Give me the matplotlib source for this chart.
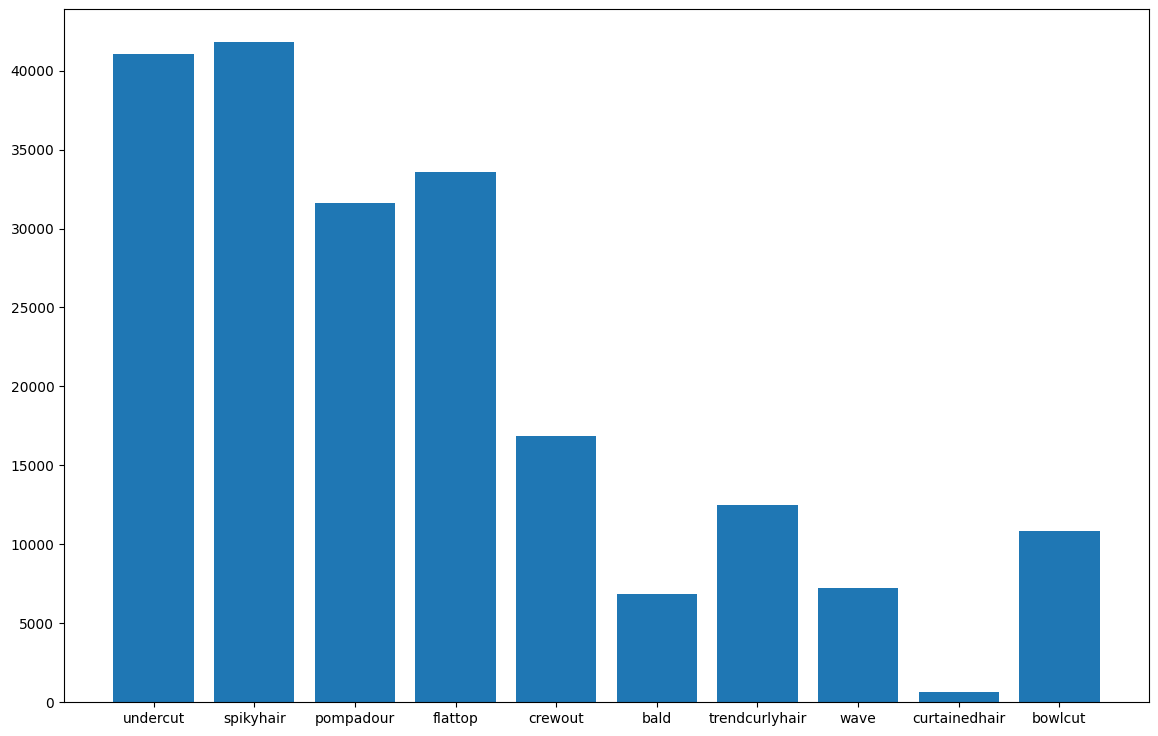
import matplotlib
matplotlib.use("Agg")
import matplotlib.pyplot as plt

categories = ["undercut", "spikyhair", "pompadour", "flattop", "crewout", "bald",
              "trendcurlyhair", "wave", "curtainedhair", "bowlcut"]
counts = [41050, 41820, 31620, 33580, 16860, 6840, 12480, 7220, 620, 10840]

fig = plt.figure(figsize=(11.58, 7.36), dpi=100)
ax = fig.add_axes([64/1158, 1-702/736, (1149-64)/1158, (702-9)/736])
ax.bar(categories, counts, color="#1f77b4")
fig.savefig("out.png", dpi=100)
